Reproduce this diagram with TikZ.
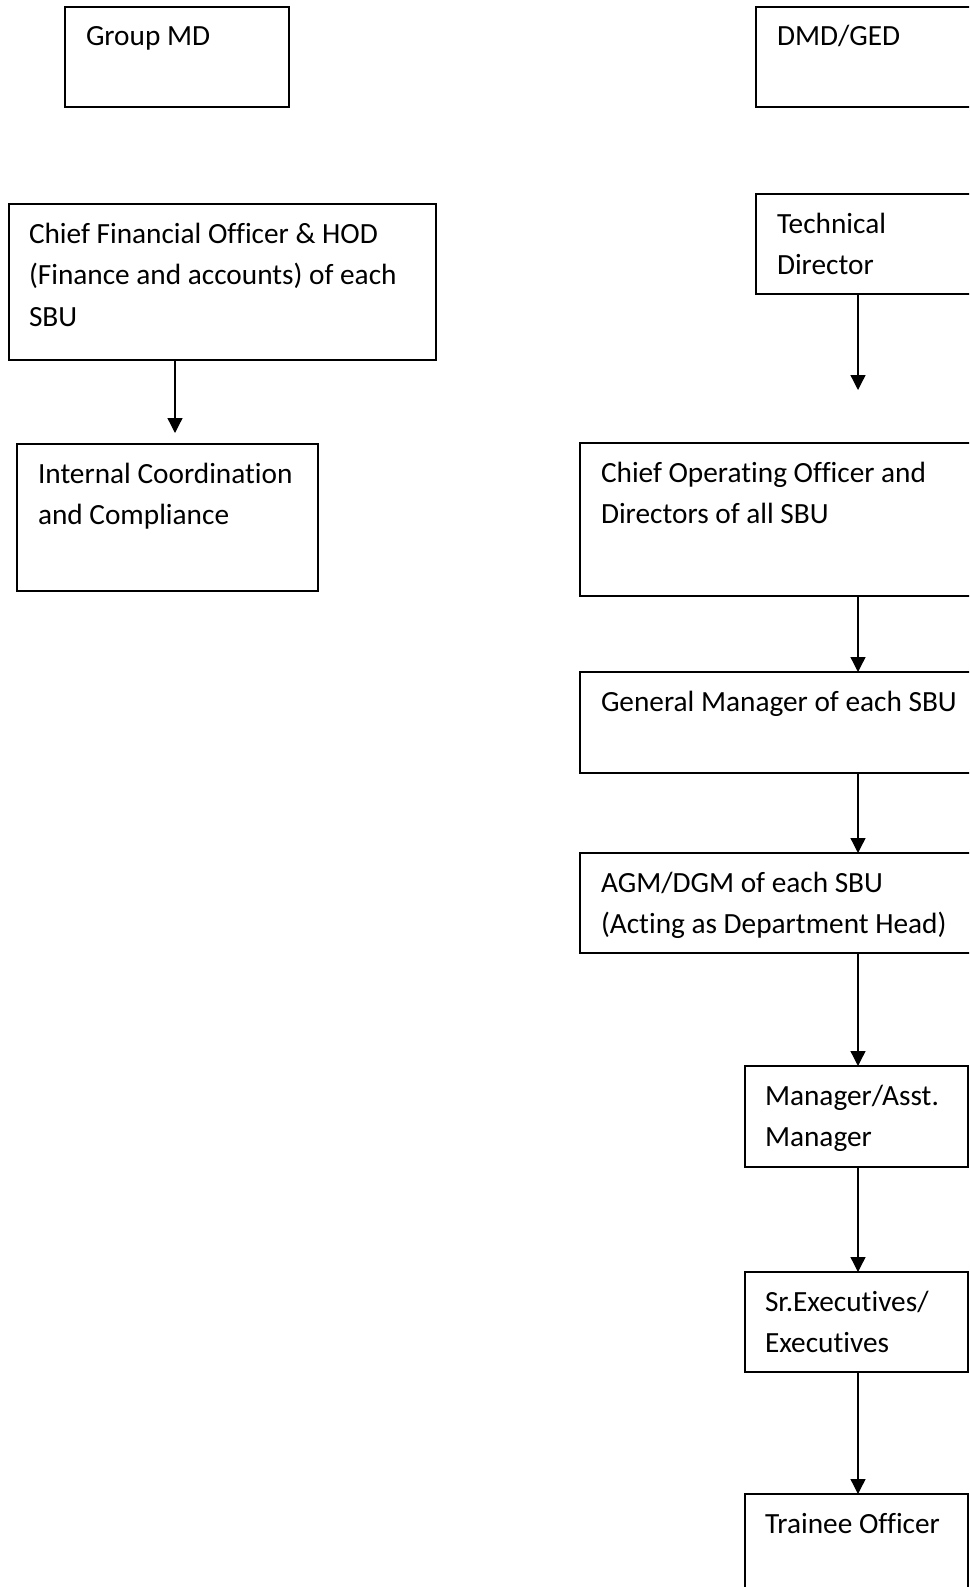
\documentclass[tikz,border=0pt]{standalone}
\usepackage{fontspec}
\setmainfont{Carlito}[Ligatures=NoCommon]
\usetikzlibrary{arrows.meta}
\tikzset{
  box/.style={draw=black, line width=1.3pt, fill=none, inner sep=0pt, outer sep=0pt, anchor=north west},
  txt/.style={anchor=base west, inner sep=0pt, outer sep=0pt, font=\fontsize{29.3pt}{41.5pt}\selectfont},
  arr/.style={line width=1.3pt, -{Triangle[width=15pt,length=15pt]}}
}
\newcommand{\boxtext}[1]{\parbox[t]{600pt}{\raggedright #1}}
\begin{document}
\begin{tikzpicture}[x=1pt,y=-1pt]
\useasboundingbox (0,0) rectangle (969,1587);
\clip (0,0) rectangle (969,1587);
% left column
\node[box, minimum width=224pt, minimum height=100pt] (gmd) at (65,7) {};
\node[txt] (gmdt) at (86,46) {\boxtext{Group MD}};
\node[box, minimum width=427pt, minimum height=156pt] (cfo) at (9,204) {};
\node[txt] (cfot) at (29,243) {\boxtext{Chief Financial Officer \& HOD\\(Finance and accounts) of each\\SBU}};
\node[box, minimum width=301pt, minimum height=147pt] (icc) at (17,444) {};
\node[txt] (icct) at (38,483) {\boxtext{Internal Coordination\\and Compliance}};
% right column
\node[box, minimum width=224pt, minimum height=100pt] (dmd) at (756,7) {};
\node[txt] (dmdt) at (777,46) {\boxtext{DMD/GED}};
\node[box, minimum width=224pt, minimum height=100pt] (tech) at (756,194) {};
\node[txt] (techt) at (777,233) {\boxtext{Technical\\Director}};
\node[box, minimum width=400pt, minimum height=153pt] (coo) at (580,443) {};
\node[txt] (coot) at (601,482) {\boxtext{Chief Operating Officer and\\Directors of all SBU}};
\node[box, minimum width=400pt, minimum height=101pt] (gm) at (580,672) {};
\node[txt] (gmt) at (601,711) {\boxtext{General Manager of each SBU}};
\node[box, minimum width=400pt, minimum height=100pt] (agm) at (580,853) {};
\node[txt] (agmt) at (601,892) {\boxtext{AGM/DGM of each SBU\\(Acting as Department Head)}};
\node[box, minimum width=223pt, minimum height=101pt] (mgr) at (745,1066) {};
\node[txt] (mgrt) at (765,1105) {\boxtext{Manager/Asst.\\Manager}};
\node[box, minimum width=223pt, minimum height=100pt] (sr) at (745,1272) {};
\node[txt] (srt) at (765,1311) {\boxtext{Sr.Executives/\\Executives}};
\node[box, minimum width=223pt, minimum height=120pt] (tr) at (745,1494) {};
\node[txt] (trt) at (765,1533) {\boxtext{Trainee Officer}};
% connectors
\coordinate (cfoend) at (175,433);
\coordinate (techend) at (858,390);
\coordinate (spine) at (858,0);
\draw[arr] (cfo.south -| cfoend) -- (cfoend);
\draw[arr] (tech.south -| techend) -- (techend);
\draw[arr] (coo.south -| spine) -- (gm.north -| spine);
\draw[arr] (gm.south -| spine) -- (agm.north -| spine);
\draw[arr] (agm.south -| spine) -- (mgr.north -| spine);
\draw[arr] (mgr.south -| spine) -- (sr.north -| spine);
\draw[arr] (sr.south -| spine) -- (tr.north -| spine);
\end{tikzpicture}
\end{document}
